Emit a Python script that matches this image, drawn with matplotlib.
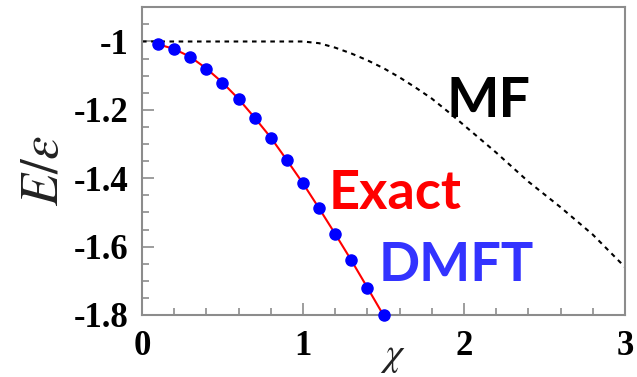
# -*- coding: utf-8 -*-
"""
Ground state energy vs coupling: exact, DMFT and mean-field curves.
"""

import matplotlib as mpl
import matplotlib.pyplot as plt
from matplotlib.ticker import MultipleLocator

# DMFT points (and exact line through them)
CHI_DMFT = [0.1, 0.2, 0.3, 0.4, 0.5, 0.6, 0.7, 0.8, 0.9, 1.0, 1.1, 1.2, 1.3, 1.4, 1.5]
E_DMFT = [-1.008, -1.022, -1.045, -1.079, -1.120, -1.168, -1.223, -1.281,
          -1.347, -1.415, -1.488, -1.563, -1.640, -1.720, -1.801]
CHI_EXACT = [0.1, 0.2, 0.3, 0.4, 0.5, 0.6, 0.7, 0.8, 0.9, 1.0, 1.1, 1.2, 1.3, 1.4, 1.5, 1.55]
E_EXACT = [-1.008, -1.022, -1.045, -1.079, -1.120, -1.168, -1.223, -1.281,
           -1.347, -1.415, -1.488, -1.563, -1.640, -1.720, -1.801, -1.84]
# mean-field curve
CHI_MF = [0.0, 0.5, 1.0, 1.1, 1.2, 1.3, 1.4, 1.5, 1.6, 1.7, 1.8, 1.9,
          2.0, 2.2, 2.4, 2.6, 2.8, 3.0]
E_MF = [-1.0, -1.0, -1.0, -1.005, -1.018, -1.035, -1.055, -1.078, -1.105,
        -1.135, -1.167, -1.205, -1.245, -1.325, -1.41, -1.485, -1.565, -1.66]

X_TICKS = [0, 1, 2, 3]
Y_TICKS = [-1.0, -1.2, -1.4, -1.6, -1.8]
Y_TICKLABELS = ["-1", "-1.2", "-1.4", "-1.6", "-1.8"]

AXIS_GRAY = "#8c8c8c"
RCPARAMS = {
    "mathtext.fontset": "stix",
    "font.family": "serif",
    "font.serif": ["Liberation Serif", "DejaVu Serif"],
}


def main():
    for key in RCPARAMS:
        mpl.rcParams[key] = RCPARAMS[key]
    fig = plt.figure(figsize=(6.37, 3.77), dpi=100)
    ax = fig.add_axes([0.2229, 0.1645, 0.9812 - 0.2229, 0.9806 - 0.1645])

    ax.plot(CHI_MF, E_MF, color="black", linestyle=(0, (2.2, 2.2)), linewidth=1.5, zorder=2)
    ax.plot(CHI_EXACT, E_EXACT, color="red", linewidth=1.5, zorder=3)
    ax.plot(CHI_DMFT, E_DMFT, "o", color="#0000ff", markersize=8, zorder=4, clip_on=False)

    ax.set_xlim(0, 3)
    ax.set_ylim(-1.8, -0.9)
    ax.set_xticks(X_TICKS)
    ax.set_yticks(Y_TICKS)
    ax.set_yticklabels(Y_TICKLABELS)
    ax.xaxis.set_minor_locator(MultipleLocator(0.2))
    ax.yaxis.set_minor_locator(MultipleLocator(0.05))
    ax.tick_params(which="both", direction="in", color=AXIS_GRAY, width=1.2)
    ax.tick_params(which="major", length=8.5, labelsize=25)
    ax.tick_params(which="minor", length=5)
    ax.tick_params(axis="y", which="major", pad=10)
    ax.tick_params(axis="x", which="major", pad=11)
    for lab in ax.get_xticklabels() + ax.get_yticklabels():
        lab.set_fontweight("bold")
    for sp in ax.spines.values():
        sp.set_color(AXIS_GRAY)
        sp.set_linewidth(1.5)

    ax.set_ylabel(r"$E/\varepsilon$", fontsize=38, color="#222222", fontweight="normal")
    ax.yaxis.set_label_coords(-0.152, 0.47)
    ax.set_xlabel(r"$\chi$", fontsize=28, color="#222222", fontweight="normal")
    ax.xaxis.set_label_coords(0.52, -0.075)

    ax.text(2.15, -1.175, "MF", fontsize=40, fontweight="bold", family="Lato",
            color="black", ha="center", va="center")
    ax.text(1.57, -1.445, "Exact", fontsize=39, fontweight="bold", family="Lato",
            color="#ff0000", ha="center", va="center")
    ax.text(1.95, -1.655, "DMFT", fontsize=39, fontweight="bold", family="Lato",
            color="#3333ff", ha="center", va="center")

    fig.savefig("out.png", dpi=100)


if __name__ == "__main__":
    main()
